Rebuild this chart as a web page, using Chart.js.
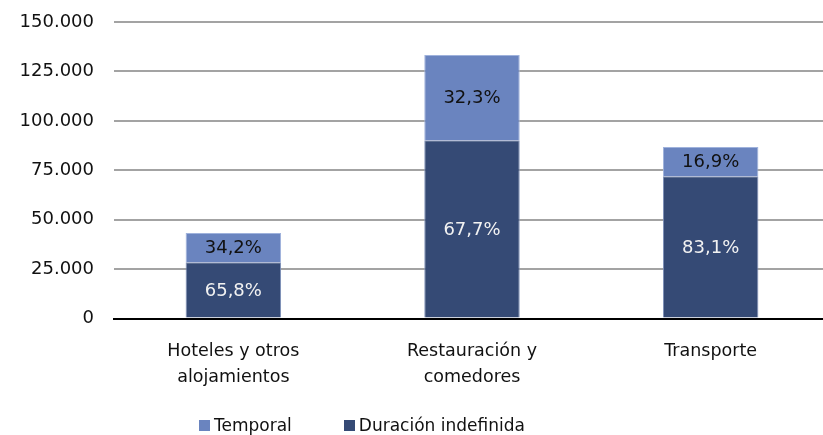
<!DOCTYPE html>
<html>
<head>
<meta charset="utf-8">
<script src="https://cdn.jsdelivr.net/npm/chart.js@4/dist/chart.umd.min.js"></script>
<style>
  html, body { margin: 0; padding: 0; background: #fff; overflow: hidden; }
  #wrap { position: relative; width: 823px; height: 435px; overflow: hidden; }
  #legend { position: absolute; left: 199px; top: 415px; display: flex; font: 17px 'DejaVu Sans', Verdana, sans-serif; color: #111; }
  #legend .item { display: flex; align-items: center; margin-right: 52px; }
  #legend .box { width: 11px; height: 11px; margin-right: 4px; }
</style>
</head>
<body>
<div id="wrap">
  <canvas id="chart" width="830" height="435"></canvas>
  <div id="legend"></div>
</div>
<script>
// data
const categories = [["Hoteles y otros", "alojamientos"], ["Restauración y", "comedores"], ["Transporte"]];
const indefinida = [28400, 90200, 72000];
const temporal = [14800, 43100, 14700];
const indefinidaPct = ["65,8%", "67,7%", "83,1%"];
const temporalPct = ["34,2%", "32,3%", "16,9%"];
const yTicks = [0, 25000, 50000, 75000, 100000, 125000, 150000];

const FONT = "'DejaVu Sans', Verdana, sans-serif";

// percent labels inside each segment
const segmentLabels = {
  id: 'segmentLabels',
  afterDatasetsDraw(chart) {
    const ctx = chart.ctx;
    ctx.save();
    ctx.font = "18px " + FONT;
    ctx.textAlign = 'center';
    ctx.textBaseline = 'middle';
    chart.data.datasets.forEach((ds, di) => {
      const meta = chart.getDatasetMeta(di);
      meta.data.forEach((bar, i) => {
        const mid = (bar.y + bar.base) / 2;
        ctx.fillStyle = ds.labelColor;
        ctx.fillText(ds.pct[i], bar.x, mid + 1);
      });
    });
    ctx.restore();
  }
};

function buildLegend(chart) {
  const legend = document.getElementById('legend');
  legend.innerHTML = '';
  chart.data.datasets.slice().reverse().forEach(ds => {
    let item = document.createElement('div');
    item.className = 'item';
    item.innerHTML = `<span class="box" style="background:${ds.backgroundColor}"></span><span>${ds.label}</span>`;
    legend.appendChild(item);
  });
}

function draw() {
  const chart = new Chart(document.getElementById('chart'), {
    type: 'bar',
    data: {
      labels: categories,
      datasets: [{
        label: 'Duración indefinida',
        data: indefinida,
        pct: indefinidaPct,
        labelColor: '#f2f2f2',
        backgroundColor: '#354a75',
        borderColor: '#7d8fb8',
        borderWidth: 1,
        barPercentage: 0.8,
        categoryPercentage: 0.5
      }, {
        label: 'Temporal',
        data: temporal,
        pct: temporalPct,
        labelColor: '#111',
        backgroundColor: '#6a84bf',
        borderColor: '#9fb2dc',
        borderWidth: 1,
        barPercentage: 0.8,
        categoryPercentage: 0.5
      }]
    },
    options: {
      responsive: false,
      animation: false,
      layout: { padding: { top: 22, bottom: 24, left: 0, right: 0 } },
      plugins: {
        tooltip: { enabled: false },
        legend: { display: false }
      },
      scales: {
        x: {
          stacked: true,
          grid: { display: false, drawTicks: false },
          border: { display: true, color: '#000', width: 2 },
          ticks: {
            color: '#111',
            padding: 20,
            maxRotation: 0,
            font: { family: FONT, size: 17.5, lineHeight: 1.5 }
          }
        },
        y: {
          stacked: true,
          min: 0,
          max: 150000,
          afterBuildTicks(scale) { scale.ticks = yTicks.map(v => ({ value: v })); },
          afterFit(scale) {
            scale.width = 114;
            scale.paddingTop = 0;
            scale.paddingBottom = 0;
          },
          grid: { color: '#a3a3a3', lineWidth: 2, drawTicks: false },
          border: { display: false },
          ticks: {
            color: '#111',
            padding: 20,
            font: { family: FONT, size: 18 },
            callback: v => v.toLocaleString('de-DE')
          }
        }
      }
    },
    plugins: [segmentLabels]
  });
  buildLegend(chart);
}

// wait for the font so the canvas text does not fall back
document.fonts.load("17px 'DejaVu Sans'").then(draw, draw);
</script>
</body>
</html>
